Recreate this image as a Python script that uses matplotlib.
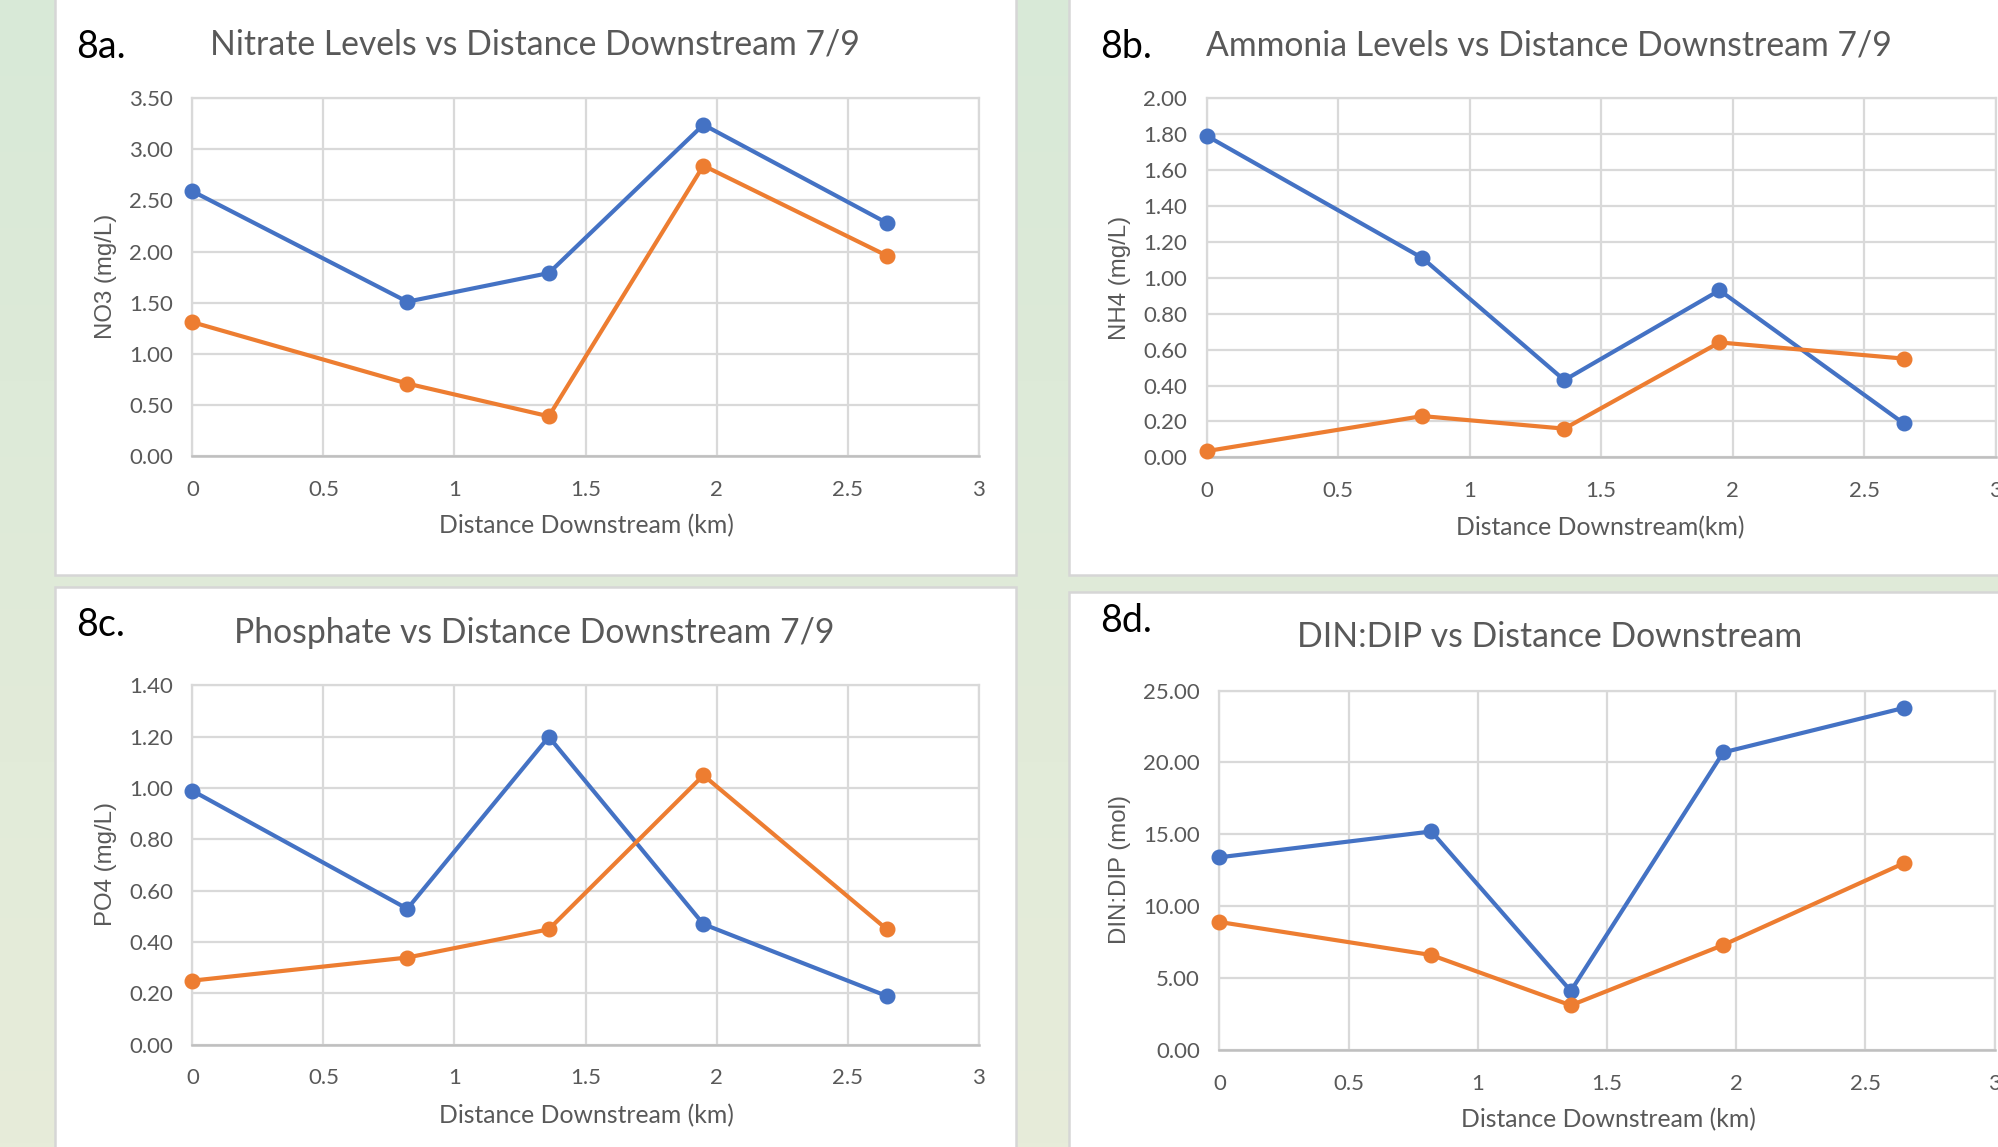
import matplotlib
matplotlib.use("Agg")
import matplotlib.pyplot as plt
from matplotlib.patches import Rectangle
import numpy as np

W, H = 1998, 1147
DPI = 100

# ---------------- data ----------------
distance = [0, 0.82, 1.36, 1.95, 2.65]

nitrate_blue = [2.59, 1.51, 1.79, 3.24, 2.28]
nitrate_orange = [1.31, 0.71, 0.39, 2.84, 1.96]

ammonia_blue = [1.79, 1.11, 0.43, 0.93, 0.19]
ammonia_orange = [0.035, 0.23, 0.16, 0.64, 0.55]

phosphate_blue = [0.99, 0.53, 1.20, 0.47, 0.19]
phosphate_orange = [0.25, 0.34, 0.45, 1.05, 0.45]

dindip_blue = [13.4, 15.2, 4.1, 20.7, 23.8]
dindip_orange = [8.9, 6.6, 3.1, 7.3, 13.0]

x_ticks = [0, 0.5, 1, 1.5, 2, 2.5, 3]
x_tick_labels = ["0", "0.5", "1", "1.5", "2", "2.5", "3"]

BLUE = "#4472C4"
ORANGE = "#ED7D31"
GRID = "#D9D9D9"
AXIS = "#BFBFBF"
TXT = "#595959"
BG_TOP = np.array([216, 233, 215]) / 255
BG_BOTTOM = np.array([231, 236, 218]) / 255

MAIN_FONT = ["Lato", "DejaVu Sans"]
YLAB_FONT = ["Liberation Sans", "DejaVu Sans"]

fig = plt.figure(figsize=(W / DPI, H / DPI), dpi=DPI)
fig.patch.set_facecolor(BG_TOP)

# background vertical gradient
bg_ax = fig.add_axes([0, 0, 1, 1])
bg_ax.set_zorder(-20)
t = np.linspace(0, 1, 256)[:, None]
grad = BG_TOP[None, None, :] * (1 - t[:, :, None]) + BG_BOTTOM[None, None, :] * t[:, :, None]
bg_ax.imshow(grad, aspect="auto", extent=[0, 1, 1, 0])
bg_ax.set_xlim(0, 1)
bg_ax.set_ylim(1, 0)
bg_ax.axis("off")


def fx(px):
    return px / W


def fy(py):
    return 1 - py / H


def add_panel(x0, y0, x1, y1):
    r = Rectangle((fx(x0), fy(y1)), fx(x1) - fx(x0), fy(y0) - fy(y1),
                  transform=fig.transFigure, facecolor="white",
                  edgecolor="#D6D6D6", linewidth=1.8, zorder=-10)
    fig.patches.append(r)


add_panel(55, -2, 1016, 575)
add_panel(1069, -2, 2005, 575)
add_panel(55, 587, 1016, 1155)
add_panel(1069, 592, 2005, 1155)


def make_ax(x0, y0, x1, y1, ymax, ystep, blue, orange):
    ax = fig.add_axes([fx(x0), fy(y1), fx(x1) - fx(x0), fy(y0) - fy(y1)])
    ax.set_zorder(5)
    ax.set_facecolor("none")
    ax.set_xlim(0, 3)
    ax.set_ylim(0, ymax)
    yt = np.round(np.arange(0, ymax + ystep / 2, ystep), 6)
    ax.set_yticks(yt)
    ax.set_yticklabels([f"{v:.2f}" for v in yt])
    ax.set_xticks(x_ticks)
    ax.set_xticklabels(x_tick_labels)
    ax.grid(True, color=GRID, linewidth=1.6, zorder=0)
    ax.set_axisbelow(True)
    for s in ["top", "right", "left"]:
        ax.spines[s].set_visible(True)
        ax.spines[s].set_color(GRID)
        ax.spines[s].set_linewidth(1.6)
    ax.spines["bottom"].set_color(AXIS)
    ax.spines["bottom"].set_linewidth(1.8)
    ax.tick_params(length=0, colors=TXT, labelsize=16)
    ax.tick_params(axis="x", pad=17)
    ax.tick_params(axis="y", pad=14)
    for lab in ax.get_xticklabels() + ax.get_yticklabels():
        lab.set_family(MAIN_FONT)
        lab.set_color(TXT)
    ax.plot(distance, blue, color=BLUE, lw=3.0, marker="o", ms=10.5,
            zorder=3, clip_on=False)
    ax.plot(distance, orange, color=ORANGE, lw=3.0, marker="o", ms=10.5,
            zorder=3, clip_on=False)
    return ax


make_ax(192.4, 98.1, 978.6, 456.2, 3.5, 0.5, nitrate_blue, nitrate_orange)
make_ax(1206.7, 98.1, 1995.6, 457.4, 2.0, 0.2, ammonia_blue, ammonia_orange)
make_ax(192.4, 685.5, 978.6, 1044.8, 1.4, 0.2, phosphate_blue, phosphate_orange)
make_ax(1219.4, 690.6, 1994.6, 1049.9, 25.0, 5.0, dindip_blue, dindip_orange)


def ftext(px, py, s, **kw):
    fig.text(fx(px), fy(py), s, **kw)


# panel letters
for (px, py, s) in [(76, 47, "8a."), (1100, 47, "8b."), (76, 625, "8c."), (1100, 621, "8d.")]:
    ftext(px, py, s, fontsize=27, color="black", family=MAIN_FONT,
          ha="left", va="center")

# titles
for (px, py, s) in [(534.5, 44.6, "Nitrate Levels vs Distance Downstream 7/9"),
                    (1548.8, 45.9, "Ammonia Levels vs Distance Downstream 7/9"),
                    (534.5, 633, "Phosphate vs Distance Downstream 7/9"),
                    (1550, 637, "DIN:DIP vs Distance Downstream")]:
    ftext(px, py, s, fontsize=24.3, color=TXT, family=MAIN_FONT,
          ha="center", va="center")

# x labels
for (px, py, s) in [(586, 526, "Distance Downstream (km)"),
                    (1600, 527.5, "Distance Downstream(km)"),
                    (586, 1116, "Distance Downstream (km)"),
                    (1608, 1120, "Distance Downstream (km)")]:
    ftext(px, py, s, fontsize=17.8, color=TXT, family=MAIN_FONT,
          ha="center", va="center")

# y labels
for (px, py, s) in [(106, 276.5, "NO3 (mg/L)"),
                    (1120, 278, "NH4 (mg/L)"),
                    (106, 864, "PO4 (mg/L)"),
                    (1120, 869, "DIN:DIP (mol)")]:
    ftext(px, py, s, fontsize=17.3, color=TXT, family=YLAB_FONT,
          ha="center", va="center", rotation=90)

fig.savefig("out.png", dpi=DPI, facecolor=fig.get_facecolor())
